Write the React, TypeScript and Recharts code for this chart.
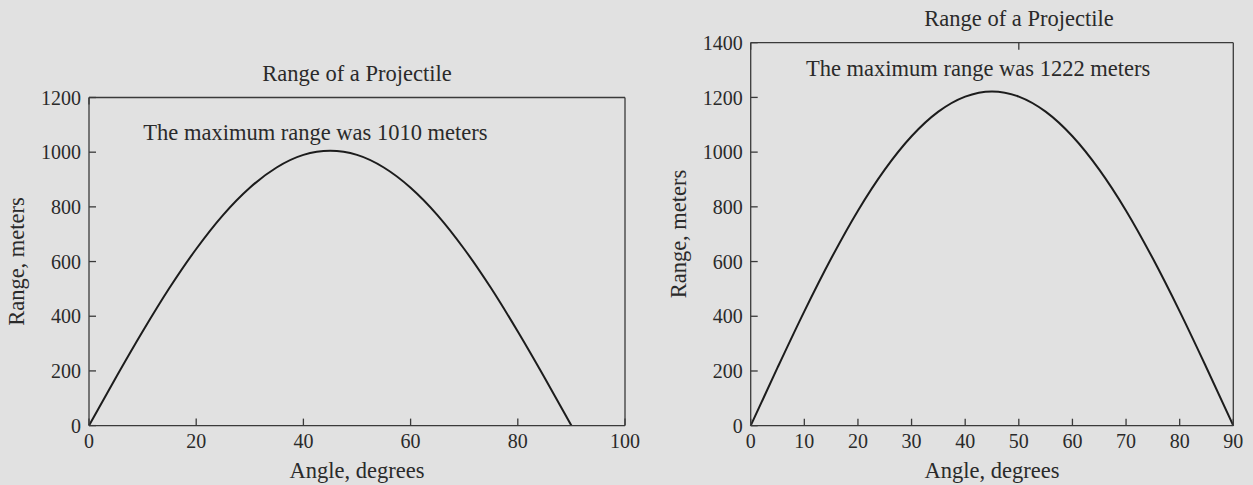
import React from "react";
import { LineChart, Line, XAxis, YAxis } from "recharts";

// launch angle, degrees
const angles = [0, 5, 10, 15, 20, 25, 30, 35, 40, 45, 50, 55, 60, 65, 70, 75, 80, 85, 90];

// range, meters
const leftRange = [0, 175, 344, 503, 646, 770, 870, 944, 990, 1005, 990, 944, 870, 770, 646, 503, 344, 175, 0];
const rightRange = [0, 212, 418, 611, 786, 936, 1058, 1148, 1203, 1222, 1203, 1148, 1058, 936, 786, 611, 418, 212, 0];

const leftXTicks = [0, 20, 40, 60, 80, 100];
const leftYTicks = [0, 200, 400, 600, 800, 1000, 1200];
const rightXTicks = [0, 10, 20, 30, 40, 50, 60, 70, 80, 90];
const rightYTicks = [0, 200, 400, 600, 800, 1000, 1200, 1400];

const leftData = angles.map((angle, i) => ({ angle, range: leftRange[i] }));
const rightData = angles.map((angle, i) => ({ angle, range: rightRange[i] }));

const FONT = '"Liberation Serif", "Times New Roman", serif';
const BG = "#e1e1e1";
const AXIS = "#3a3a3a";
const INK = "#1c1c1c";
const TEXT = "#2a2a2a";

interface PanelProps {
  data: { angle: number; range: number }[];
  xTicks: number[];
  yTicks: number[];
  width: number;
  yAxisWidth: number;
  margin: { top: number; right: number; bottom: number; left: number };
}

const tickStyle = { fill: TEXT, fontSize: 20, fontFamily: FONT };
const lineStyle = { stroke: AXIS, strokeWidth: 1.3 };
// tick={false} drops the tick lines too, so blank the labels instead
const noLabel = () => "";

const Panel = ({ data, xTicks, yTicks, width, yAxisWidth, margin }: PanelProps) => {
  const xDomain: [number, number] = [xTicks[0], xTicks[xTicks.length - 1]];
  const yDomain: [number, number] = [yTicks[0], yTicks[yTicks.length - 1]];
  return (
    <LineChart width={width} height={485} data={data} margin={margin}>
      {/* bottom + left carry the labels, mirrored top + right close the box */}
      <XAxis
        dataKey="angle"
        type="number"
        domain={xDomain}
        ticks={xTicks}
        interval={0}
        height={40}
        tickSize={-7}
        tickMargin={14.7}
        tick={tickStyle}
        axisLine={lineStyle}
        tickLine={lineStyle}
      />
      <XAxis
        xAxisId="top"
        orientation="top"
        mirror
        type="number"
        domain={xDomain}
        ticks={xTicks}
        interval={0}
        height={10}
        tickSize={7}
        tickFormatter={noLabel}
        axisLine={lineStyle}
        tickLine={lineStyle}
      />
      <YAxis
        type="number"
        domain={yDomain}
        ticks={yTicks}
        interval={0}
        width={yAxisWidth}
        tickSize={-7}
        tickMargin={15}
        tick={tickStyle}
        axisLine={lineStyle}
        tickLine={lineStyle}
      />
      <YAxis
        yAxisId="right"
        orientation="right"
        mirror
        type="number"
        domain={yDomain}
        ticks={yTicks}
        interval={0}
        width={10}
        tickSize={7}
        tickFormatter={noLabel}
        axisLine={lineStyle}
        tickLine={lineStyle}
      />
      <Line
        type="monotone"
        dataKey="range"
        stroke={INK}
        strokeWidth={2}
        dot={false}
        isAnimationActive={false}
      />
    </LineChart>
  );
};

const labelStyle = { fill: TEXT, fontSize: 22.5, fontFamily: FONT };

export default function App() {
  return (
    <div
      style={{
        position: "absolute",
        left: 0,
        top: 0,
        width: 1253,
        height: 485,
        background: BG,
        overflow: "hidden",
      }}
    >
      <div style={{ position: "absolute", left: 0, top: 0 }}>
        <Panel
          data={leftData}
          xTicks={leftXTicks}
          yTicks={leftYTicks}
          width={640}
          yAxisWidth={89}
          margin={{ top: 97.5, right: 15, bottom: 19.4, left: 0 }}
        />
      </div>
      <div style={{ position: "absolute", left: 640, top: 0 }}>
        <Panel
          data={rightData}
          xTicks={rightXTicks}
          yTicks={rightYTicks}
          width={613}
          yAxisWidth={110.7}
          margin={{ top: 42.7, right: 19.7, bottom: 19.3, left: 0 }}
        />
      </div>
      <svg
        width={1253}
        height={485}
        style={{ position: "absolute", left: 0, top: 0, pointerEvents: "none" }}
      >
        <text x={357} y={80.7} textAnchor="middle" style={labelStyle}>
          Range of a Projectile
        </text>
        <text x={143.3} y={140} textAnchor="start" style={labelStyle}>
          The maximum range was 1010 meters
        </text>
        <text x={357} y={478} textAnchor="middle" style={labelStyle}>
          Angle, degrees
        </text>
        <text transform="translate(23.5,261.5) rotate(-90)" textAnchor="middle" style={labelStyle}>
          Range, meters
        </text>

        <text x={1019} y={26} textAnchor="middle" style={labelStyle}>
          Range of a Projectile
        </text>
        <text x={806} y={75.7} textAnchor="start" style={labelStyle}>
          The maximum range was 1222 meters
        </text>
        <text x={992} y={478} textAnchor="middle" style={labelStyle}>
          Angle, degrees
        </text>
        <text transform="translate(685.5,234) rotate(-90)" textAnchor="middle" style={labelStyle}>
          Range, meters
        </text>
      </svg>
    </div>
  );
}
